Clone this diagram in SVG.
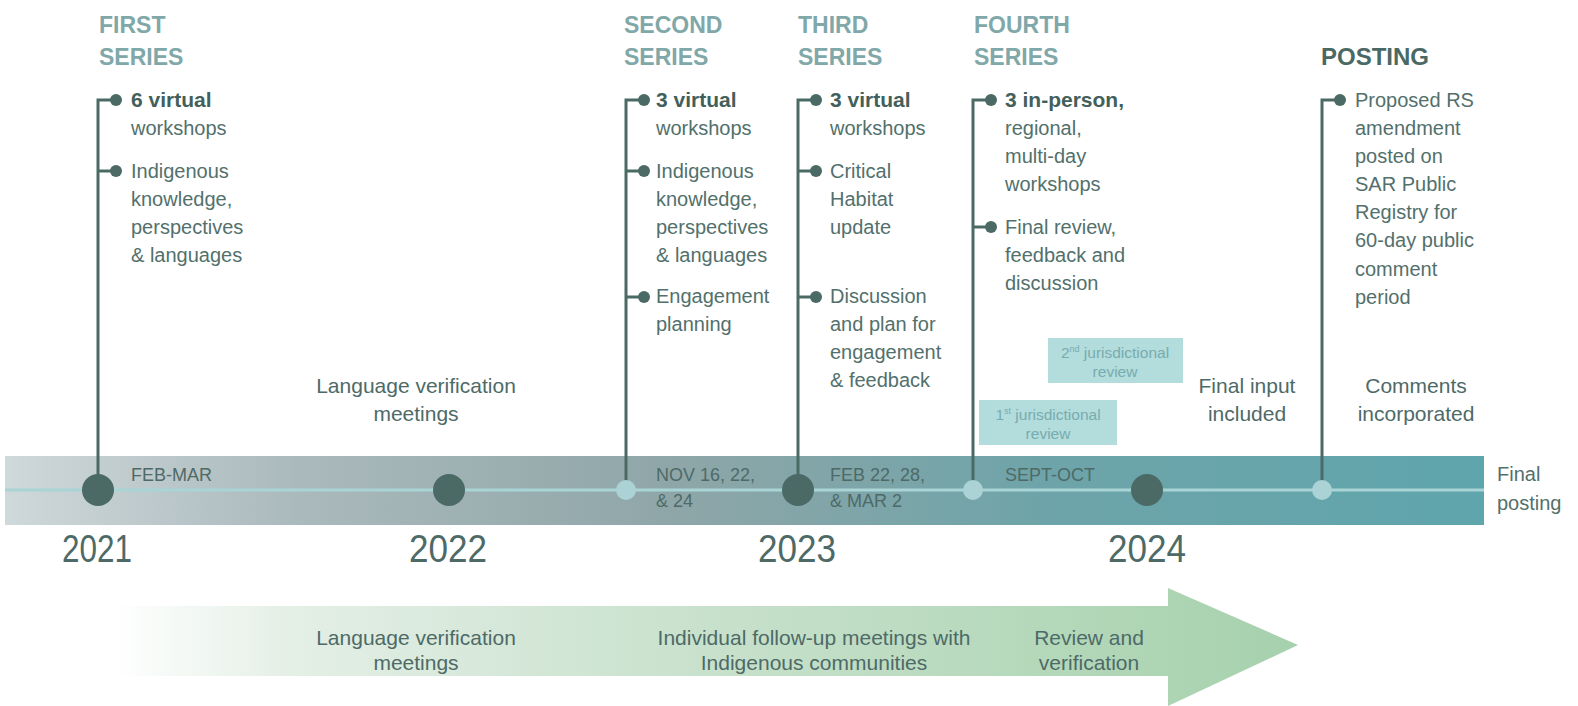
<svg xmlns="http://www.w3.org/2000/svg" width="1578" height="706" viewBox="0 0 1578 706">
<defs>
<linearGradient id="band" x1="0" y1="0" x2="1" y2="0">
<stop offset="0" stop-color="#cfd8da"/>
<stop offset="0.2" stop-color="#aab9bc"/>
<stop offset="0.45" stop-color="#8fa6a8"/>
<stop offset="0.7" stop-color="#6ea4a9"/>
<stop offset="1" stop-color="#5fa5ac"/>
</linearGradient>
<linearGradient id="arrow" x1="112" y1="0" x2="1298" y2="0" gradientUnits="userSpaceOnUse">
<stop offset="0" stop-color="#ffffff"/>
<stop offset="0.15" stop-color="#e4efe6"/>
<stop offset="0.5" stop-color="#c8e1cc"/>
<stop offset="1" stop-color="#a6d1ad"/>
</linearGradient>
<style>
text{font-family:"Liberation Sans",Arial,sans-serif;}
.title{font-size:23px;font-weight:bold;fill:#80a8a9;}
.post{font-size:24px;font-weight:bold;fill:#4b6964;}
.body{font-size:20px;fill:#52706c;}
.bold{font-weight:bold;fill:#435f5b;font-size:21px;}
.lbl{font-size:18px;fill:#4e6a67;}
.note{font-size:21px;fill:#4e6a67;text-anchor:middle;}
.year{font-size:38px;fill:#4e6a67;text-anchor:middle;}
.jbox{fill:#b3dcdd;}
.jtxt{font-size:15.5px;fill:#78acae;text-anchor:middle;}
.stem{stroke:#4b6a65;stroke-width:3;fill:none;}
.dot{fill:#4b6a65;}
.big{fill:#4b6a65;}
.small{fill:#abd3d6;}
</style>
</defs>
<rect width="1578" height="706" fill="#ffffff"/>

<g id="bottom-arrow">
<path d="M112,606 L1168,606 L1168,588 L1298,645 L1168,706 L1168,676 L112,676 Z" fill="url(#arrow)"/>
<text class="note" x="416" y="645">Language verification</text>
<text class="note" x="416" y="670">meetings</text>
<text class="note" x="814" y="645">Individual follow-up meetings with</text>
<text class="note" x="814" y="670">Indigenous communities</text>
<text class="note" x="1089" y="645">Review and</text>
<text class="note" x="1089" y="670">verification</text>
</g>

<g id="timeline-band">
<rect x="5" y="456" width="1479" height="69" fill="url(#band)"/>
<line x1="5" y1="490" x2="1484" y2="490" stroke="#a9d4d6" stroke-width="3"/>
<text class="lbl" x="131" y="481">FEB-MAR</text>
<text class="lbl" x="656" y="481">NOV 16, 22,</text>
<text class="lbl" x="656" y="507">&amp; 24</text>
<text class="lbl" x="830" y="481">FEB 22, 28,</text>
<text class="lbl" x="830" y="507">&amp; MAR 2</text>
<text class="lbl" x="1005" y="481">SEPT-OCT</text>
<text class="body" x="1497" y="481">Final</text>
<text class="body" x="1497" y="510">posting</text>
</g>

<g id="connectors">
<path class="stem" d="M98,490 V100 H116"/>
<path class="stem" d="M98,171 H116"/>
<path class="stem" d="M626,490 V100 H644"/>
<path class="stem" d="M626,171 H644 M626,297 H644"/>
<path class="stem" d="M798,490 V100 H816"/>
<path class="stem" d="M798,171 H816 M798,297 H816"/>
<path class="stem" d="M973,490 V100 H991"/>
<path class="stem" d="M973,227 H991"/>
<path class="stem" d="M1322,490 V100 H1340"/>
</g>

<g id="markers">
<circle class="big" cx="98" cy="490" r="16"/>
<circle class="big" cx="449" cy="490" r="16"/>
<circle class="big" cx="798" cy="490" r="16"/>
<circle class="big" cx="1147" cy="490" r="16"/>
<circle class="small" cx="626" cy="490" r="10"/>
<circle class="small" cx="973" cy="490" r="10"/>
<circle class="small" cx="1322" cy="490" r="10"/>
</g>

<g id="years">
<text class="year" x="97" y="562" textLength="70" lengthAdjust="spacingAndGlyphs">2021</text>
<text class="year" x="448" y="562" textLength="78" lengthAdjust="spacingAndGlyphs">2022</text>
<text class="year" x="797" y="562" textLength="78" lengthAdjust="spacingAndGlyphs">2023</text>
<text class="year" x="1147" y="562" textLength="78" lengthAdjust="spacingAndGlyphs">2024</text>
</g>

<g id="first-series">
<text class="title" x="99" y="33">FIRST</text>
<text class="title" x="99" y="65">SERIES</text>
<circle class="dot" cx="116" cy="100" r="6"/>
<circle class="dot" cx="116" cy="171" r="6"/>
<text class="body" x="131"><tspan class="bold" x="131" y="107">6 virtual</tspan><tspan x="131" y="135">workshops</tspan><tspan x="131" y="178">Indigenous</tspan><tspan x="131" y="206">knowledge,</tspan><tspan x="131" y="234">perspectives</tspan><tspan x="131" y="262">&amp; languages</tspan></text>
</g>

<g id="second-series">
<text class="title" x="624" y="33">SECOND</text>
<text class="title" x="624" y="65">SERIES</text>
<circle class="dot" cx="644" cy="100" r="6"/>
<circle class="dot" cx="644" cy="171" r="6"/>
<circle class="dot" cx="644" cy="297" r="6"/>
<text class="body" x="656"><tspan class="bold" x="656" y="107">3 virtual</tspan><tspan x="656" y="135">workshops</tspan><tspan x="656" y="178">Indigenous</tspan><tspan x="656" y="206">knowledge,</tspan><tspan x="656" y="234">perspectives</tspan><tspan x="656" y="262">&amp; languages</tspan><tspan x="656" y="303">Engagement</tspan><tspan x="656" y="331">planning</tspan></text>
</g>

<g id="third-series">
<text class="title" x="798" y="33">THIRD</text>
<text class="title" x="798" y="65">SERIES</text>
<circle class="dot" cx="816" cy="100" r="6"/>
<circle class="dot" cx="816" cy="171" r="6"/>
<circle class="dot" cx="816" cy="297" r="6"/>
<text class="body" x="830"><tspan class="bold" x="830" y="107">3 virtual</tspan><tspan x="830" y="135">workshops</tspan><tspan x="830" y="178">Critical</tspan><tspan x="830" y="206">Habitat</tspan><tspan x="830" y="234">update</tspan><tspan x="830" y="303">Discussion</tspan><tspan x="830" y="331">and plan for</tspan><tspan x="830" y="359">engagement</tspan><tspan x="830" y="387">&amp; feedback</tspan></text>
</g>

<g id="fourth-series">
<text class="title" x="974" y="33">FOURTH</text>
<text class="title" x="974" y="65">SERIES</text>
<circle class="dot" cx="991" cy="100" r="6"/>
<circle class="dot" cx="991" cy="227" r="6"/>
<text class="body" x="1005"><tspan class="bold" x="1005" y="107">3 in-person,</tspan><tspan x="1005" y="135">regional,</tspan><tspan x="1005" y="163">multi-day</tspan><tspan x="1005" y="191">workshops</tspan><tspan x="1005" y="234">Final review,</tspan><tspan x="1005" y="262">feedback and</tspan><tspan x="1005" y="290">discussion</tspan></text>
</g>

<g id="posting">
<text class="post" x="1321" y="65">POSTING</text>
<circle class="dot" cx="1340" cy="100" r="6"/>
<text class="body" x="1355"><tspan x="1355" y="107">Proposed RS</tspan><tspan x="1355" y="135">amendment</tspan><tspan x="1355" y="163">posted on</tspan><tspan x="1355" y="191">SAR Public</tspan><tspan x="1355" y="219">Registry for</tspan><tspan x="1355" y="247">60-day public</tspan><tspan x="1355" y="276">comment</tspan><tspan x="1355" y="304">period</tspan></text>
</g>

<g id="band-notes">
<text class="note" x="416" y="393">Language verification</text>
<text class="note" x="416" y="421">meetings</text>
<text class="note" x="1247" y="393">Final input</text>
<text class="note" x="1247" y="421">included</text>
<text class="note" x="1416" y="393">Comments</text>
<text class="note" x="1416" y="421">incorporated</text>
</g>

<g id="jurisdictional-2">
<rect class="jbox" x="1048" y="338" width="135" height="45"/>
<text class="jtxt" x="1115" y="358">2<tspan font-size="9" dy="-6">nd</tspan><tspan dy="6"> jurisdictional</tspan></text>
<text class="jtxt" x="1115" y="377">review</text>
</g>

<g id="jurisdictional-1">
<rect class="jbox" x="979" y="400" width="138" height="45"/>
<text class="jtxt" x="1048" y="420">1<tspan font-size="9" dy="-6">st</tspan><tspan dy="6"> jurisdictional</tspan></text>
<text class="jtxt" x="1048" y="439">review</text>
</g>
</svg>
